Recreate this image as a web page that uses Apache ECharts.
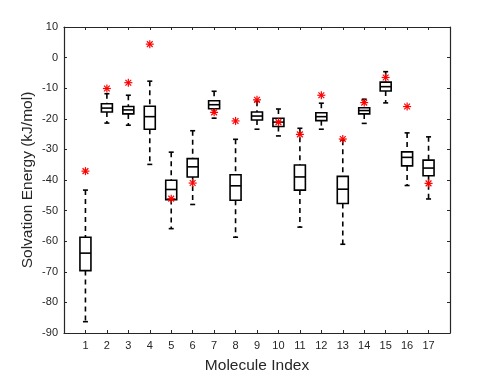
<!DOCTYPE html>
<html>
<head>
<meta charset="utf-8">
<script src="https://cdn.jsdelivr.net/npm/echarts@6/dist/echarts.min.js"></script>
<style>
	html, body { margin: 0; padding: 0; background: #fff; }
	#box { width: 498px; height: 374px; }
</style>
</head>
<body>
<div id="box"></div>
<script>
var molecules = [1, 2, 3, 4, 5, 6, 7, 8, 9, 10, 11, 12, 13, 14, 15, 16, 17];
var whiskerLow = [-86.3, -21.4, -22.1, -34.9, -55.9, -48.0, -19.8, -58.7, -23.4, -25.6, -55.4, -23.4, -61.0, -21.5, -14.8, -41.8, -46.2];
var q1 = [-69.6, -17.8, -18.4, -23.4, -46.4, -39.0, -16.7, -46.6, -20.4, -22.5, -43.3, -20.6, -47.7, -18.4, -10.9, -35.4, -38.6];
var median = [-63.9, -16.5, -17.1, -19.3, -43.1, -35.7, -15.4, -41.9, -19.1, -21.1, -39.0, -19.3, -43.0, -17.3, -9.5, -32.6, -36.1];
var q3 = [-58.7, -15.1, -16.0, -15.9, -40.1, -33.0, -14.1, -38.3, -17.8, -19.8, -35.1, -18.0, -38.8, -16.4, -8.0, -30.8, -33.5];
var whiskerHigh = [-43.3, -11.8, -12.3, -7.7, -30.9, -23.9, -11.0, -26.7, -14.3, -16.8, -23.1, -14.9, -27.0, -13.6, -4.6, -24.6, -25.9];
var reference = [-37.1, -10.1, -8.2, 4.4, -46.1, -41.0, -17.9, -20.7, -13.8, -21.1, -25.1, -12.3, -26.6, -14.7, -6.5, -16.0, -41.1];
var yTicks = [-90, -80, -70, -60, -50, -40, -30, -20, -10, 0, 10];

var boxData = molecules.map(function (m, i) {
	return [m, whiskerLow[i], q1[i], median[i], q3[i], whiskerHigh[i]];
});
var refData = molecules.map(function (m, i) {
	return [m, reference[i]];
});

var axisColor = '#262626';
var font = 'Liberation Sans, Arial, Helvetica, sans-serif';

function renderBox(params, api) {
	var x = api.value(0);
	var low = api.coord([x, api.value(1)]);
	var b1 = api.coord([x, api.value(2)]);
	var md = api.coord([x, api.value(3)]);
	var b3 = api.coord([x, api.value(4)]);
	var high = api.coord([x, api.value(5)]);
	var cx = low[0];
	var hw = 5.5;
	var cw = 2.5;
	var solid = { stroke: '#000', lineWidth: 1.6, fill: null };
	var dashed = { stroke: '#000', lineWidth: 1.6, lineDash: [5, 4] };
	return {
		type: 'group',
		children: [
			{ type: 'line', shape: { x1: cx, y1: high[1], x2: cx, y2: b3[1] }, style: dashed },
			{ type: 'line', shape: { x1: cx, y1: b1[1], x2: cx, y2: low[1] }, style: dashed },
			{ type: 'line', shape: { x1: cx - cw, y1: high[1], x2: cx + cw, y2: high[1] }, style: solid },
			{ type: 'line', shape: { x1: cx - cw, y1: low[1], x2: cx + cw, y2: low[1] }, style: solid },
			{ type: 'rect', shape: { x: cx - hw, y: b3[1], width: hw * 2, height: b1[1] - b3[1] }, style: { stroke: '#000', lineWidth: 1.6, fill: '#fff' } },
			{ type: 'line', shape: { x1: cx - hw, y1: md[1], x2: cx + hw, y2: md[1] }, style: solid }
		]
	};
}

function renderStar(params, api) {
	var p = api.coord([api.value(0), api.value(1)]);
	var r = 4;
	var d = r * 0.72;
	var st = { stroke: '#ff0000', lineWidth: 1.2 };
	return {
		type: 'group',
		children: [
			{ type: 'line', shape: { x1: p[0] - r, y1: p[1], x2: p[0] + r, y2: p[1] }, style: st },
			{ type: 'line', shape: { x1: p[0], y1: p[1] - r, x2: p[0], y2: p[1] + r }, style: st },
			{ type: 'line', shape: { x1: p[0] - d, y1: p[1] - d, x2: p[0] + d, y2: p[1] + d }, style: st },
			{ type: 'line', shape: { x1: p[0] - d, y1: p[1] + d, x2: p[0] + d, y2: p[1] - d }, style: st }
		]
	};
}

var myChart = echarts.init(document.getElementById('box'));
var option = {
	animation: false,
	backgroundColor: '#fff',
	grid: { left: 64, top: 27, right: 48, bottom: 41, outerBoundsMode: 'none' },
	xAxis: [{
		type: 'value',
		min: 0,
		max: 18,
		interval: 1,
		name: 'Molecule Index',
		nameLocation: 'middle',
		nameGap: 25,
		nameMoveOverlap: false,
		nameTextStyle: { fontFamily: font, fontSize: 15.5, color: axisColor },
		axisLine: { onZero: false, lineStyle: { color: axisColor, width: 1.2 } },
		axisTick: { inside: true, length: 3, lineStyle: { color: axisColor } },
		axisLabel: {
			fontFamily: font, fontSize: 11, color: axisColor, margin: 7,
			formatter: function (v) { return molecules.indexOf(v) >= 0 ? String(v) : ''; }
		},
		splitLine: { show: false }
	}, {
		type: 'value',
		position: 'top',
		min: 0,
		max: 18,
		interval: 1,
		axisLine: { onZero: false, lineStyle: { color: axisColor, width: 1.2 } },
		axisTick: { inside: true, length: 3, lineStyle: { color: axisColor } },
		axisLabel: { show: false },
		splitLine: { show: false }
	}],
	yAxis: [{
		type: 'value',
		min: yTicks[0],
		max: yTicks[yTicks.length - 1],
		interval: 10,
		name: 'Solvation Energy (kJ/mol)',
		nameLocation: 'middle',
		nameGap: 28,
		nameMoveOverlap: false,
		nameTextStyle: { fontFamily: font, fontSize: 15.5, color: axisColor },
		axisLine: { show: true, onZero: false, lineStyle: { color: axisColor, width: 1.2 } },
		axisTick: { show: true, inside: true, length: 3, lineStyle: { color: axisColor } },
		axisLabel: { fontFamily: font, fontSize: 11, color: axisColor, margin: 6 },
		splitLine: { show: false }
	}, {
		type: 'value',
		position: 'right',
		min: yTicks[0],
		max: yTicks[yTicks.length - 1],
		interval: 10,
		axisLine: { show: true, onZero: false, lineStyle: { color: axisColor, width: 1.2 } },
		axisTick: { show: true, inside: true, length: 3, lineStyle: { color: axisColor } },
		axisLabel: { show: false },
		splitLine: { show: false }
	}],
	series: [{
		type: 'custom',
		name: 'box',
		xAxisIndex: 0,
		yAxisIndex: 0,
		renderItem: renderBox,
		encode: { x: 0, y: [1, 2, 3, 4, 5] },
		data: boxData
	}, {
		type: 'custom',
		name: 'reference',
		xAxisIndex: 0,
		yAxisIndex: 0,
		renderItem: renderStar,
		encode: { x: 0, y: 1 },
		data: refData,
		z: 3
	}]
};

myChart.setOption(option);
</script>
</body>
</html>
